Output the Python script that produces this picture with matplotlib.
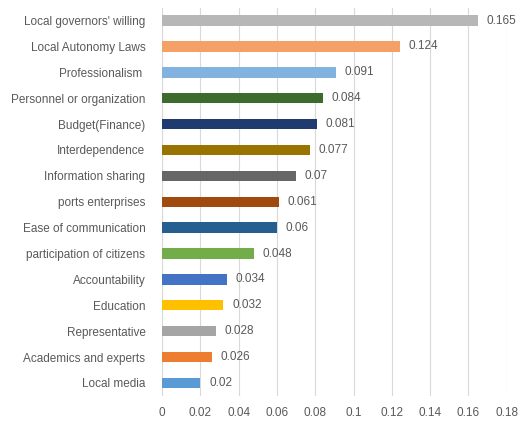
import numpy as np
import matplotlib.pyplot as plt

factors = [
    "Local governors' willing", "Local Autonomy Laws", "Professionalism ",
    "Personnel or organization", "Budget(Finance)", "Interdependence",
    "Information sharing", "ports enterprises", "Ease of communication",
    "participation of citizens", "Accountability", "Education",
    "Representative", "Academics and experts", "Local media",
]
weights = [0.165, 0.124, 0.091, 0.084, 0.081, 0.077, 0.07, 0.061, 0.06,
           0.048, 0.034, 0.032, 0.028, 0.026, 0.02]
value_labels = ["0.165", "0.124", "0.091", "0.084", "0.081", "0.077", "0.07",
                "0.061", "0.06", "0.048", "0.034", "0.032", "0.028", "0.026", "0.02"]
colors = ["#B7B7B7", "#F4A066", "#82B3E0", "#3D6B2C", "#1F3B70", "#9A7400",
          "#666666", "#A04A10", "#255E91", "#72AD4A", "#4472C4", "#FFC000",
          "#A5A5A5", "#ED7D31", "#5B9BD5"]
xticks = [0, 0.02, 0.04, 0.06, 0.08, 0.1, 0.12, 0.14, 0.16, 0.18]
xtick_labels = ["0", "0.02", "0.04", "0.06", "0.08", "0.1", "0.12", "0.14", "0.16", "0.18"]

plt.rcParams['font.family'] = ['Liberation Sans', 'DejaVu Sans']
txt = "#595959"

fig = plt.figure(figsize=(5.23, 4.23), dpi=100)
ax = fig.add_axes([0.31, 0.064, 0.659, 0.918])

y = np.arange(len(factors))
ax.barh(y, weights, height=0.4, color=colors, zorder=3)
for yi, w, lab in zip(y, weights, value_labels):
    ax.text(w + 0.0045, yi, lab, va="center", ha="left", fontsize=8.5, color=txt)

ax.set_ylim(len(factors) - 0.5, -0.5)
ax.set_xlim(0, 0.18)
ax.set_yticks(y)
ax.set_yticklabels(factors, fontsize=8.5, color=txt)
ax.set_xticks(xticks)
ax.set_xticklabels(xtick_labels, fontsize=8.5, color=txt)
ax.tick_params(length=0, pad=12)
ax.tick_params(axis="x", pad=8)
ax.grid(axis="x", color="#D9D9D9", linewidth=0.8, zorder=0)
for s in ax.spines.values():
    s.set_visible(False)
ax.axvline(0, color="#D9D9D9", linewidth=0.8, zorder=1)

fig.savefig("out.png", dpi=100)
